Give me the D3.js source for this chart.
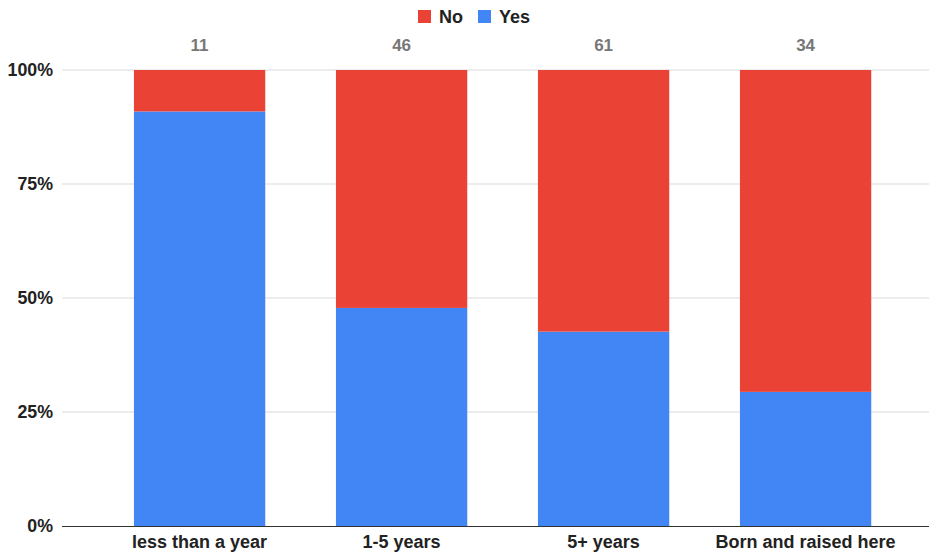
<!DOCTYPE html>
<html>
<head>
<meta charset="utf-8">
<script src="https://cdn.jsdelivr.net/npm/d3@7"></script>
<style>
  body { margin: 0; background: #fff; }
  svg { display: block; font-family: "Liberation Sans", Arial, Helvetica, sans-serif; }
</style>
</head>
<body>
<svg id="chart" width="929" height="554"></svg>
<script>
const categories = ["less than a year", "1-5 years", "5+ years", "Born and raised here"];
const yesCounts = [10, 22, 26, 10];
const noCounts = [1, 24, 35, 24];
const totals = [11, 46, 61, 34];
const yTicks = [0, 0.25, 0.5, 0.75, 1];
const seriesNames = ["No", "Yes"];
const colors = { No: "#EA4335", Yes: "#4285F4" };

const svg = d3.select("#chart");
const plotLeft = 62, plotRight = 929, plotTop = 70, plotBottom = 526;

const x = d3.scaleBand().domain(categories).range([98.6, 906.6]).paddingInner(0.35).paddingOuter(0.175);
const y = d3.scaleLinear().domain([0, 1]).range([plotBottom, plotTop]);

// gridlines
svg.append("g").selectAll("line").data(yTicks.filter(d => d > 0)).join("line")
  .attr("x1", plotLeft).attr("x2", plotRight)
  .attr("y1", d => y(d)).attr("y2", d => y(d))
  .attr("stroke", "#d9d9d9").attr("stroke-width", 1);

// y labels
svg.append("g").selectAll("text").data(yTicks).join("text")
  .attr("x", 53).attr("y", d => y(d)).attr("dy", "0.35em")
  .attr("text-anchor", "end").attr("font-size", 17.8).attr("font-weight", "bold")
  .attr("fill", "#222").text(d3.format(".0%"));

// stacked data
const rows = categories.map((c, i) => {
  const t = yesCounts[i] + noCounts[i];
  return { cat: c, Yes: yesCounts[i] / t, No: noCounts[i] / t };
});
const stack = d3.stack().keys(["Yes", "No"])(rows);

svg.append("g").selectAll("g").data(stack).join("g")
  .attr("fill", d => colors[d.key])
  .selectAll("rect").data(d => d).join("rect")
  .attr("x", d => x(d.data.cat))
  .attr("width", x.bandwidth())
  .attr("y", d => y(d[1]))
  .attr("height", d => y(d[0]) - y(d[1]));

// baseline axis
svg.append("line").attr("x1", plotLeft).attr("x2", plotRight)
  .attr("y1", plotBottom + 0.5).attr("y2", plotBottom + 0.5)
  .attr("stroke", "#333").attr("stroke-width", 1);

// x labels
svg.append("g").selectAll("text").data(categories).join("text")
  .attr("x", d => x(d) + x.bandwidth() / 2).attr("y", 547.5)
  .attr("text-anchor", "middle").attr("font-size", 18).attr("font-weight", "bold")
  .attr("fill", "#222").text(d => d);

// totals above
svg.append("g").selectAll("text").data(categories).join("text")
  .attr("x", d => x(d) + x.bandwidth() / 2).attr("y", 51)
  .attr("text-anchor", "middle").attr("font-size", 17).attr("font-weight", "bold")
  .attr("fill", "#777").text((d, i) => totals[i]);

// legend
const legend = svg.append("g");
const legendItems = [{ name: "No", x: 418 }, { name: "Yes", x: 478 }];
legendItems.forEach(it => {
  legend.append("rect").attr("x", it.x).attr("y", 10).attr("width", 13).attr("height", 13)
    .attr("fill", colors[it.name]);
  legend.append("text").attr("x", it.x + 21).attr("y", 16.5).attr("dy", "0.35em")
    .attr("font-size", 18).attr("font-weight", "bold").attr("fill", "#222").text(it.name);
});
</script>
</body>
</html>
